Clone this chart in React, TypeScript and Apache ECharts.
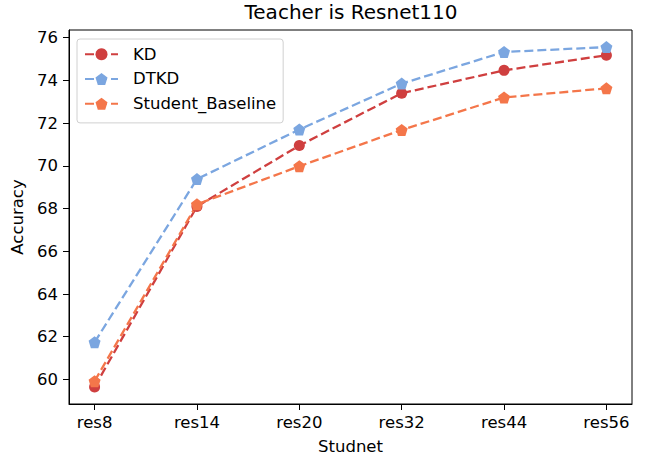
import React, { useEffect, useRef } from "react";
import * as echarts from "echarts";

const categories = ["res8", "res14", "res20", "res32", "res44", "res56"];
const kd = [59.65, 68.1, 70.95, 73.4, 74.47, 75.18];
const dtkd = [61.74, 69.38, 71.7, 73.85, 75.33, 75.56];
const studentBaseline = [59.92, 68.2, 69.98, 71.68, 73.2, 73.63];
const yTicks = [60, 62, 64, 66, 68, 70, 72, 74, 76];
const xTicks = [0, 1, 2, 3, 4, 5];

const FONT = "DejaVu Sans";
const FS = 16.5;
const pentagon =
  "path://M0,-1 L0.951,-0.309 L0.588,0.809 L-0.588,0.809 L-0.951,-0.309 Z";

function makeSeries(name: string, values: number[], color: string, symbol: string, size: number) {
  return {
    name,
    type: "line",
    data: values.map((v, i) => [i, v]),
    symbol,
    symbolSize: size,
    itemStyle: { color },
    lineStyle: { color, width: 2.3, type: [9, 4] },
    z: 2,
  };
}

export default function App() {
  const ref = useRef<HTMLDivElement>(null);
  useEffect(() => {
    if (!ref.current) return;
    const chart = echarts.init(ref.current, undefined, { renderer: "svg" });
    chart.setOption({
      animation: false,
      backgroundColor: "#ffffff",
      textStyle: { fontFamily: FONT },
      title: {
        text: "Teacher is Resnet110",
        left: 351,
        top: 2,
        padding: 0,
        textAlign: "center",
        textStyle: { fontFamily: FONT, fontSize: 20, fontWeight: "normal", color: "#000" },
      },
      legend: {
        orient: "vertical",
        left: 77,
        top: 39,
        padding: [6, 7, 10, 7],
        itemWidth: 33,
        itemHeight: 15,
        itemGap: 6.2,
        borderColor: "#d0d0d0",
        borderWidth: 1,
        borderRadius: 3,
        backgroundColor: "rgba(255,255,255,0.8)",
        textStyle: {
          fontFamily: FONT,
          fontSize: FS,
          lineHeight: 18.5,
          color: "#000",
          padding: [0, 0, 0, 10],
        },
        data: ["KD", "DTKD", "Student_Baseline"],
      },
      grid: {
        left: 69,
        right: 15,
        top: 30,
        bottom: 53,
        show: true,
        borderColor: "#000",
        borderWidth: 1,
        backgroundColor: "transparent",
        containLabel: false,
        outerBoundsMode: "none",
      },
      xAxis: {
        type: "value",
        min: -0.25,
        max: 5.25,
        name: "Studnet",
        nameLocation: "middle",
        nameGap: 34,
        nameTextStyle: { fontFamily: FONT, fontSize: FS, color: "#000" },
        axisLine: { show: true, onZero: false, lineStyle: { color: "#000", width: 1 } },
        axisTick: { show: true, length: 6, customValues: xTicks, lineStyle: { color: "#000" } },
        axisLabel: {
          customValues: xTicks,
          margin: 10,
          fontFamily: FONT,
          fontSize: FS,
          color: "#000",
          formatter: (v: number) => categories[Math.round(v)] ?? "",
        },
        splitLine: { show: false },
      },
      yAxis: {
        type: "value",
        min: 58.85,
        max: 76.36,
        name: "Accuracy",
        nameLocation: "middle",
        nameGap: 40,
        nameRotate: 90,
        nameTextStyle: { fontFamily: FONT, fontSize: FS, color: "#000" },
        axisLine: { show: true, onZero: false, lineStyle: { color: "#000", width: 1 } },
        axisTick: { show: true, length: 6, customValues: yTicks, lineStyle: { color: "#000" } },
        axisLabel: {
          customValues: yTicks,
          margin: 11,
          fontFamily: FONT,
          fontSize: FS,
          color: "#000",
        },
        splitLine: { show: false },
      },
      series: [
        makeSeries("KD", kd, "#cf3f3f", "circle", 11),
        makeSeries("DTKD", dtkd, "#7ba6e0", pentagon, 12),
        makeSeries("Student_Baseline", studentBaseline, "#f4764a", pentagon, 12),
      ],
    });
    return () => chart.dispose();
  }, []);
  return (
    <div
      ref={ref}
      style={{ position: "fixed", left: 0, top: 0, width: 647, height: 457 }}
    />
  );
}
